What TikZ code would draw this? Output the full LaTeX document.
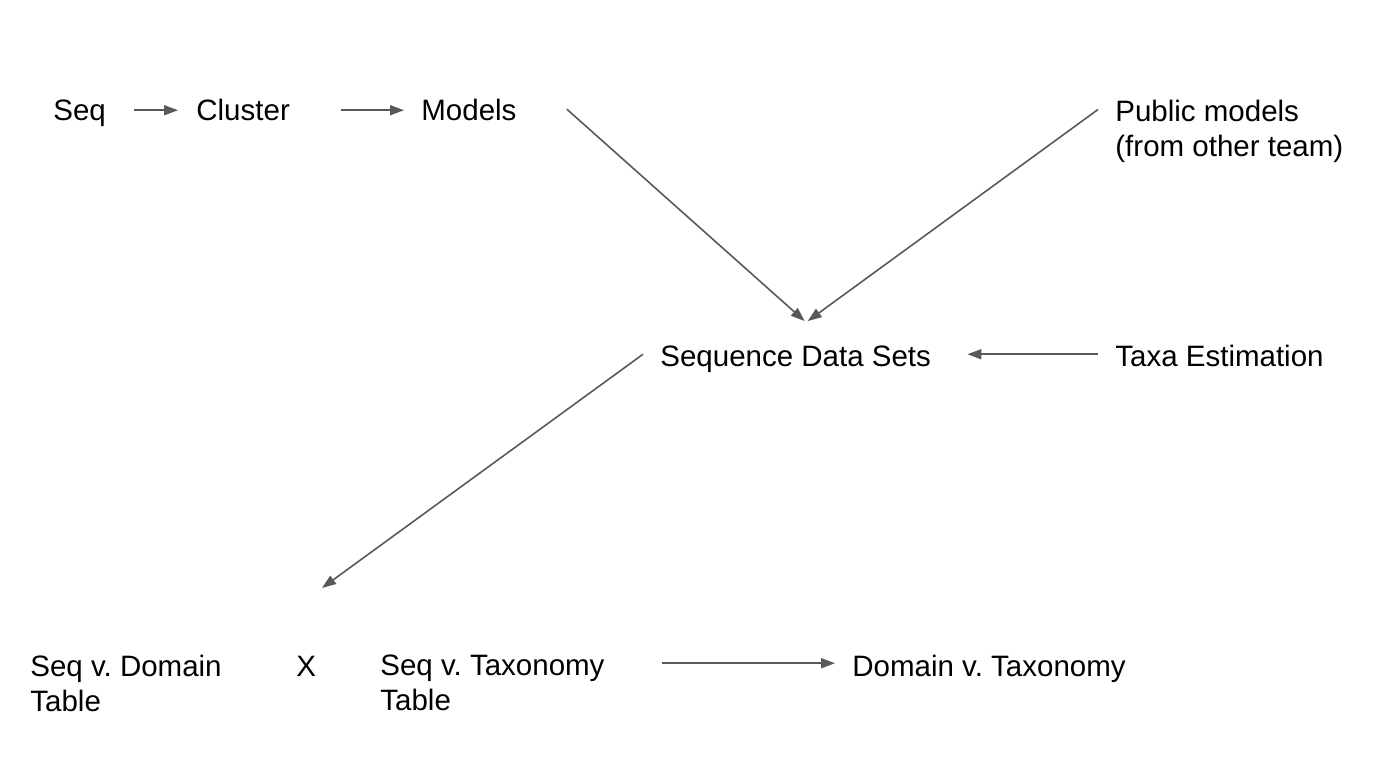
\documentclass[tikz,border=0pt]{standalone}
\usepackage{fontspec}
\setmainfont{Liberation Sans}
\frenchspacing
\usetikzlibrary{calc,arrows.meta}
\definecolor{arrowgray}{RGB}{89,89,89}
\tikzset{
  lbl/.style={inner sep=0pt, anchor=base west, text height=10.75pt, text depth=0pt, font=\fontsize{14.75}{17.5}\selectfont},
  mlbl/.style={inner sep=0pt, anchor=north west, align=left, font=\fontsize{14.75}{17.5}\selectfont},
  flow/.style={draw=arrowgray, line width=0.8pt, -{Triangle[length=7pt,width=5pt]}, arrowgray}
}
\begin{document}
\begin{tikzpicture}[x=0.5pt,y=-0.5pt]

% Frame
\useasboundingbox (0,0) rectangle (1394,758);

% Top row
\node[lbl] (seq) at (53,121) {Seq};
\node[lbl] (cluster) at (196,121) {Cluster};
\node[lbl] (models) at (421,121) {Models};
\node[mlbl] (public) at (1115,99.5) {Public models\\(from other team)};

% Middle row
\node[lbl] (sds) at (660,367) {Sequence Data Sets};
\node[lbl] (taxa) at (1115,367) {Taxa Estimation};

% Bottom row
\node[mlbl] (seqdom) at (30,655) {Seq v. Domain\\Table};
\node[lbl] (cross) at (296,677) {X};
\node[mlbl] (seqtax) at (380,655) {Seq v. Taxonomy\\Table};
\node[lbl] (domtax) at (852,677) {Domain v. Taxonomy};

% Free end of the lower arrow
\coordinate (split) at (322,588);

% Arrows
\draw[flow] ($(seq.east)+(28,0)$) -- ($(cluster.west)+(-18,0)$);
\draw[flow] ($(cluster.east)+(51,0)$) -- ($(models.west)+(-17,0)$);
\draw[flow] ($(models.east)+(50,-1)$) -- ($(sds.north)+(9,-24)$);
\draw[flow] ($(public.north west)+(-17,10)$) -- ($(sds.north)+(12,-24)$);
\draw[flow] ($(taxa.west)+(-17,-2)$) -- ($(sds.east)+(36,-2)$);
\draw[flow] ($(sds.west)+(-17,-2)$) -- (split);
\draw[flow] ($(seqtax.east |- domtax.west)+(57,-3)$) -- ($(domtax.west)+(-17,-3)$);

\end{tikzpicture}
\end{document}
